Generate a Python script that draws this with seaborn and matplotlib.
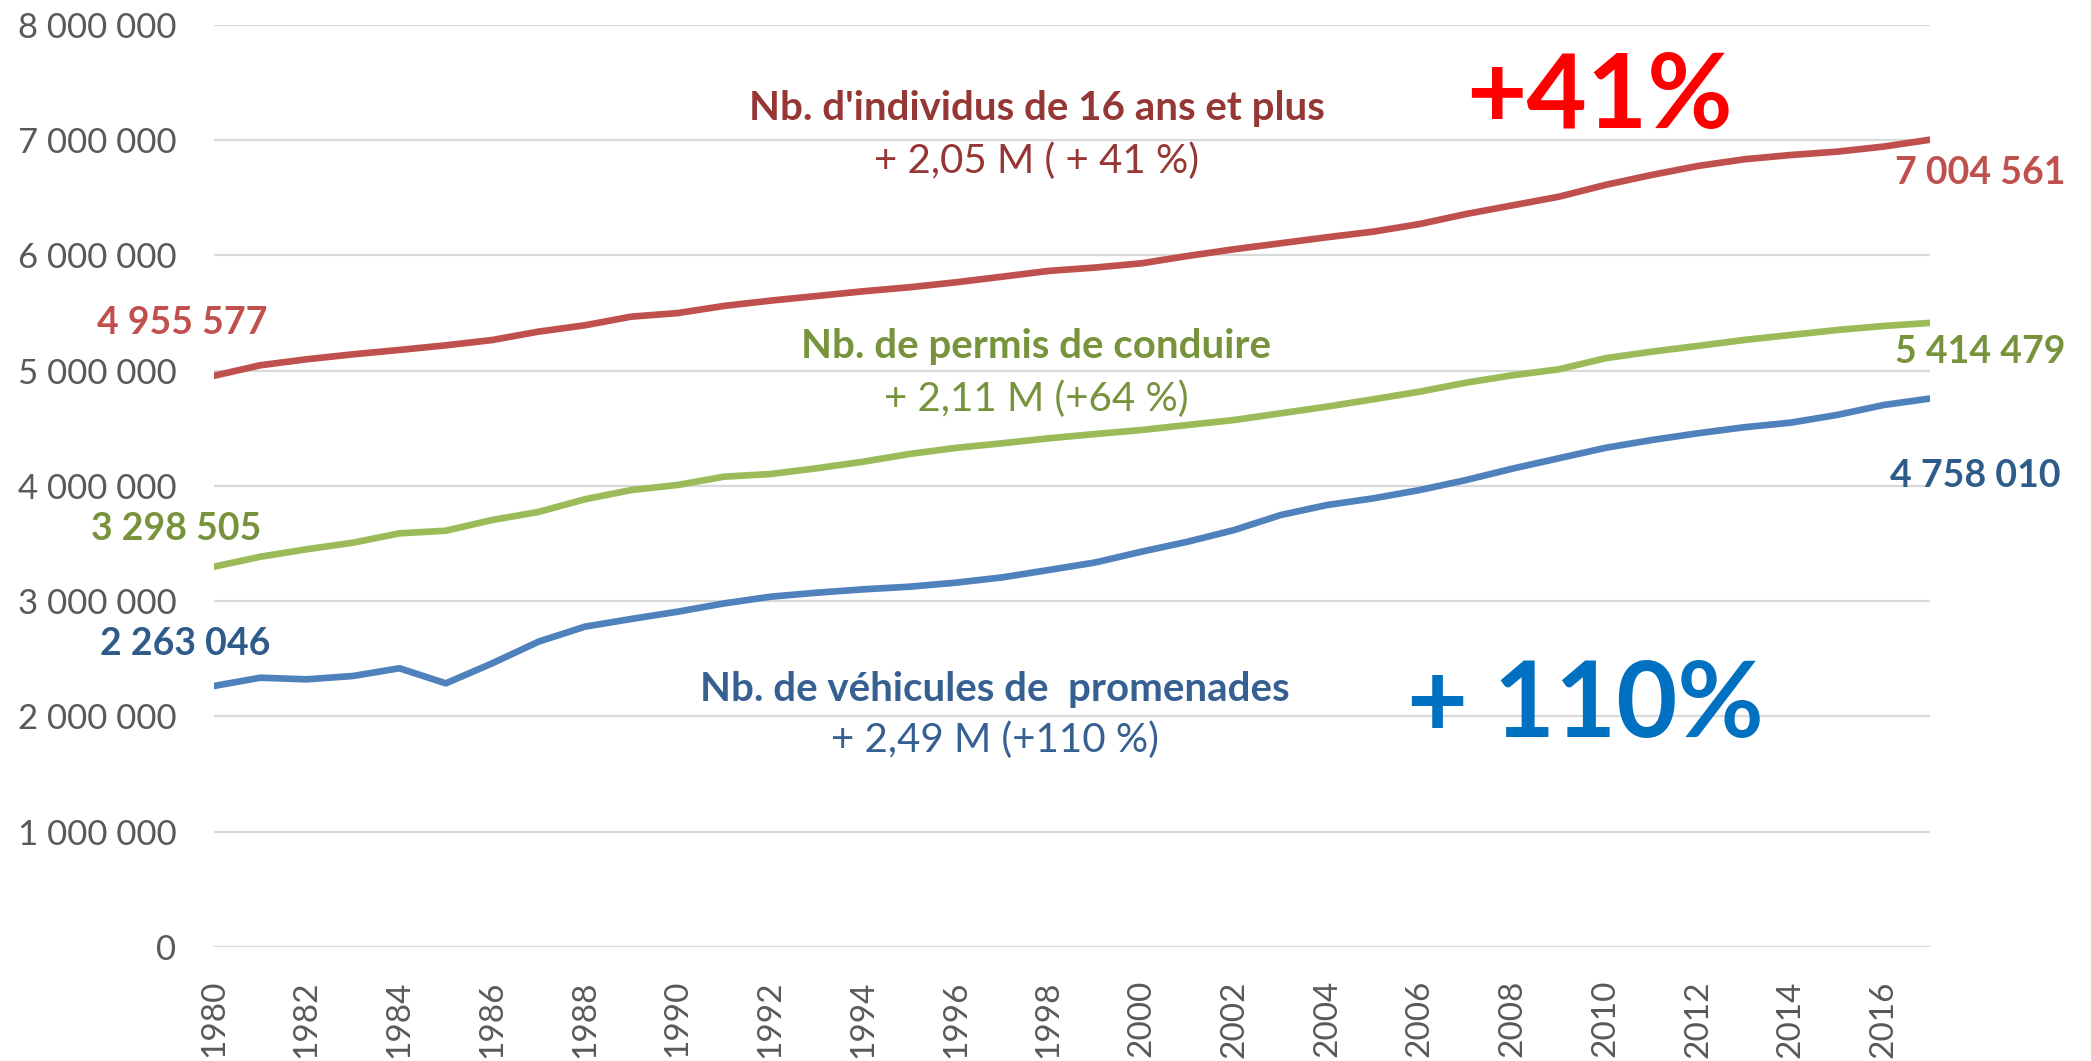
import matplotlib
matplotlib.use("Agg")
import matplotlib.pyplot as plt
import numpy as np
import pandas as pd
import seaborn as sns

# --- data ---
annees = list(range(1980, 2018))

individus_16_plus = [
    4955577, 5047000, 5099000, 5142000, 5180000, 5220000, 5266000, 5339000, 5394000, 5469000,
    5500000, 5562000, 5608000, 5648000, 5689000, 5724000, 5767000, 5816000, 5866000, 5895000,
    5932000, 5996000, 6054000, 6106000, 6158000, 6207000, 6273000, 6360000, 6435000, 6510000,
    6612000, 6699000, 6777000, 6835000, 6872000, 6901000, 6945000, 7004561,
]
permis_conduire = [
    3298505, 3385000, 3450000, 3507000, 3588000, 3611000, 3704000, 3774000, 3884000, 3964000,
    4008000, 4080000, 4103000, 4153000, 4210000, 4277000, 4330000, 4370000, 4413000, 4450000,
    4485000, 4529000, 4572000, 4630000, 4688000, 4752000, 4818000, 4896000, 4960000, 5012000,
    5108000, 5165000, 5215000, 5267000, 5310000, 5353000, 5388000, 5414479,
]
vehicules_promenade = [
    2263046, 2335000, 2321000, 2350000, 2417000, 2286000, 2460000, 2648000, 2778000, 2845000,
    2908000, 2980000, 3038000, 3073000, 3102000, 3125000, 3160000, 3206000, 3270000, 3335000,
    3429000, 3516000, 3617000, 3747000, 3834000, 3892000, 3964000, 4051000, 4150000, 4240000,
    4330000, 4398000, 4457000, 4509000, 4549000, 4616000, 4702000, 4758010,
]

series_noms = ["individus", "permis", "vehicules"]
couleurs_lignes = {"individus": "#C0504D", "permis": "#9BBB59", "vehicules": "#4F81BD"}

df = pd.DataFrame({
    "annee": annees * 3,
    "valeur": individus_16_plus + permis_conduire + vehicules_promenade,
    "serie": ["individus"] * len(annees) + ["permis"] * len(annees) + ["vehicules"] * len(annees),
})

def espace_milliers(v):
    return f"{v:,.0f}".replace(",", " ")

# --- figure ---
sns.set_theme(style="white")
plt.rcParams["font.family"] = ["Lato", "DejaVu Sans"]

fig = plt.figure(figsize=(20.91, 10.61), dpi=100)
ax = fig.add_axes([0.1023, 0.1077, 0.8207, 0.8687])

sns.lineplot(data=df, x="annee", y="valeur", hue="serie", hue_order=series_noms,
             palette=couleurs_lignes, linewidth=4.8, legend=False, ax=ax,
             solid_capstyle="round", solid_joinstyle="round", zorder=3)

ax.set_xlim(1980, 2017)
ax.set_ylim(0, 8000000)
ax.set_yticks(np.arange(0, 8000001, 1000000))
ax.set_yticklabels([espace_milliers(v) for v in np.arange(0, 8000001, 1000000)])
ax.set_xticks(annees[::2])
ax.set_xticklabels([str(a) for a in annees[::2]], rotation=90)
ax.tick_params(axis="y", length=0, pad=27, labelsize=25, labelcolor="#595959")
ax.tick_params(axis="x", length=0, pad=24, labelsize=24, labelcolor="#595959")
ax.grid(axis="y", color="#D9D9D9", linewidth=1.6, zorder=0)
ax.grid(axis="x", visible=False)
for s in ax.spines.values():
    s.set_visible(False)
ax.set_xlabel("")
ax.set_ylabel("")

# valeurs de début et de fin
gras = dict(fontweight="bold", fontsize=27, ha="center", va="center", clip_on=False)
ax.text(1979.32, 5414000, espace_milliers(individus_16_plus[0]), color="#C0504D", **gras)
ax.text(1979.19, 3626000, espace_milliers(permis_conduire[0]), color="#77933C", **gras)
ax.text(1979.38, 2628000, espace_milliers(vehicules_promenade[0]), color="#2E5C8A", **gras)
ax.text(2018.09, 6716000, espace_milliers(individus_16_plus[-1]), color="#C0504D", **gras)
ax.text(2018.09, 5162000, espace_milliers(permis_conduire[-1]), color="#77933C", **gras)
ax.text(2017.98, 4086000, espace_milliers(vehicules_promenade[-1]), color="#2E5C8A", **gras)

# titres de séries
taille_titre = 29
ax.text(1997.74, 7272000, "Nb. d'individus de 16 ans et plus", color="#953735", fontsize=taille_titre,
        fontweight="bold", ha="center", va="center")
ax.text(1997.74, 6820000, "+ 2,05 M ( + 41 %)", color="#953735", fontsize=taille_titre,
        ha="center", va="center")
ax.text(1997.72, 5206000, "Nb. de permis de conduire", color="#77933C", fontsize=taille_titre,
        fontweight="bold", ha="center", va="center")
ax.text(1997.72, 4754000, "+ 2,11 M (+64 %)", color="#77933C", fontsize=taille_titre,
        ha="center", va="center")
ax.text(1996.83, 2237000, "Nb. de véhicules de  promenades", color="#376092", fontsize=taille_titre,
        fontweight="bold", ha="center", va="center")
ax.text(1996.83, 1794000, "+ 2,49 M (+110 %)", color="#376092", fontsize=taille_titre,
        ha="center", va="center")

# grosses étiquettes
ax.text(2009.87, 7368000, "+41%", color="#FF0000", fontsize=75, fontweight="bold",
        ha="center", va="center")
ax.text(2009.57, 2081000, "+ 110%", color="#0070C0", fontsize=76, fontweight="bold",
        ha="center", va="center")

fig.savefig("out.png", dpi=100)
